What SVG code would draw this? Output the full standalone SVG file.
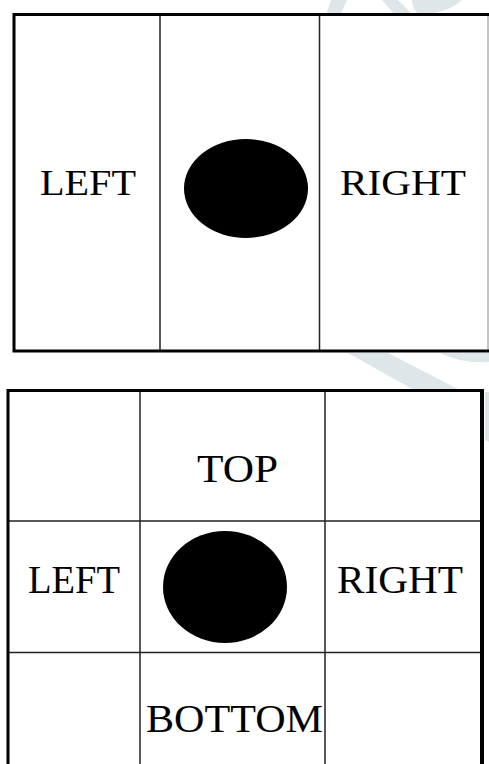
<svg xmlns="http://www.w3.org/2000/svg" width="489" height="764" viewBox="0 0 489 764">
<style>
.bg{fill:#ffffff}
.wm{fill:#dfe6ea}
.thick{stroke:#000;stroke-width:3;fill:none}
.thin{stroke:#222;stroke-width:1.5;fill:none}
.lbl{font-family:"Liberation Serif","Times New Roman",serif;fill:#000}
.t1{font-size:35px}
.t2{font-size:40px}
.dot{fill:#000}
</style>
<rect x="0" y="0" width="489" height="764" class="bg"/>
<g id="watermark">
<path class="wm" d="M326,14 L331,0 L347,0 L341,14 Z"/>
<path class="wm" d="M382,0 L398,0 L412,14 L394,14 Z"/>
<path class="wm" d="M412,0 L462,0 Q452,10 430,14 L418,14 Q412,8 412,0 Z"/>
<path class="wm" d="M348,353 L388,353 L458,389 L412,389 Z"/>
<path class="wm" d="M440,353 L489,353 L489,362 Q462,364 440,353 Z"/>
<path class="wm" d="M485,392 L489,392 L489,442 L485,440 Z"/>
</g>
<g id="panel-top">
<rect x="14" y="14.5" width="475" height="336.5" fill="#fff"/>
<g id="top-left-cell">
<text class="lbl t1" x="40" y="195" textLength="96" lengthAdjust="spacingAndGlyphs">LEFT</text>
</g>
<g id="top-center-cell">
<ellipse class="dot" cx="246" cy="188.5" rx="62" ry="49.5"/>
</g>
<g id="top-right-cell">
<text class="lbl t1" x="340" y="195" textLength="126" lengthAdjust="spacingAndGlyphs">RIGHT</text>
</g>
</g>
<g id="panel-bottom">
<rect x="8" y="390.5" width="474" height="374" fill="#fff"/>
<g id="bottom-top-cell">
<text class="lbl t2" x="197" y="482" textLength="81" lengthAdjust="spacingAndGlyphs">TOP</text>
</g>
<g id="bottom-left-cell">
<text class="lbl t2" x="28" y="593" textLength="92" lengthAdjust="spacingAndGlyphs">LEFT</text>
</g>
<g id="bottom-center-cell">
<ellipse class="dot" cx="225" cy="587" rx="62" ry="56"/>
</g>
<g id="bottom-right-cell">
<text class="lbl t2" x="337" y="593" textLength="126" lengthAdjust="spacingAndGlyphs">RIGHT</text>
</g>
<g id="bottom-bottom-cell">
<text class="lbl t2" x="146" y="732" textLength="177" lengthAdjust="spacingAndGlyphs">BOTTOM</text>
</g>
</g>
<g id="lines">
<line class="thin" x1="160" y1="14.5" x2="160" y2="351"/>
<line class="thin" x1="319.5" y1="14.5" x2="319.5" y2="351"/>
<line x1="488" y1="14.5" x2="488" y2="351" stroke="#8a8a8a" stroke-width="1"/>
<path class="thick" d="M489,14.5 L14,14.5 L14,351 L489,351"/>
<line class="thin" x1="140" y1="390.5" x2="140" y2="764"/>
<line class="thin" x1="325" y1="390.5" x2="325" y2="764"/>
<line class="thin" x1="8" y1="521" x2="482" y2="521"/>
<line class="thin" x1="8" y1="652.5" x2="482" y2="652.5"/>
<path class="thick" d="M8,764 L8,390.5 L482,390.5"/>
<line x1="482" y1="389" x2="482" y2="764" stroke="#000" stroke-width="4"/>
</g>
</svg>
